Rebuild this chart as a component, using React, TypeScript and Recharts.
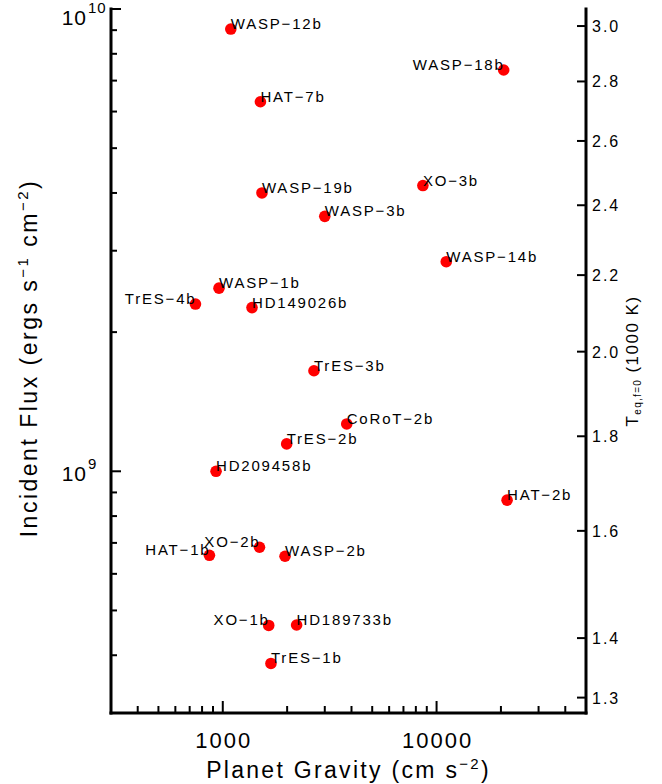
import React from 'react';
import { ScatterChart, Scatter, XAxis, YAxis, Label } from 'recharts';

// planets
const NAMES = [
  'WASP-12b', 'HAT-7b', 'WASP-19b', 'WASP-3b', 'WASP-1b', 'TrES-4b', 'HD149026b',
  'TrES-3b', 'WASP-18b', 'XO-3b', 'WASP-14b', 'TrES-2b', 'HD209458b', 'XO-2b',
  'HAT-1b', 'WASP-2b', 'XO-1b', 'HD189733b', 'TrES-1b', 'CoRoT-2b', 'HAT-2b',
];
const GRAVITY = [
  1090, 1500, 1525, 3000, 960, 745, 1370,
  2670, 20600, 8630, 11100, 1990, 930, 1485,
  866, 1955, 1640, 2215, 1680, 3800, 21370,
];
const FLUX = [
  9.05e9, 6.3e9, 4.0e9, 3.56e9, 2.49e9, 2.3e9, 2.26e9,
  1.65e9, 7.38e9, 4.15e9, 2.84e9, 1.146e9, 1.0e9, 6.85e8,
  6.58e8, 6.55e8, 4.64e8, 4.65e8, 3.84e8, 1.266e9, 8.66e8,
];
// which side of the dot the name sits on
const SIDE = [
  'r', 'r', 'r', 'r', 'r', 'l', 'r',
  'r', 'l', 'r', 'r', 'r', 'r', 'l',
  'l', 'r', 'l', 'r', 'r', 'r', 'r',
];

const G_TICKS = [400, 500, 600, 700, 800, 900, 1000, 2000, 3000, 4000, 5000, 6000, 7000, 8000, 9000, 10000, 20000, 30000, 40000];
const G_MAJOR = [1000, 10000];
const F_TICKS = [4e8, 5e8, 6e8, 7e8, 8e8, 9e8, 1e9, 2e9, 3e9, 4e9, 5e9, 6e9, 7e9, 8e9, 9e9, 1e10];
const F_MAJOR = [1e9, 1e10];
const TEQ_TICKS = [1.3, 1.4, 1.6, 1.8, 2.0, 2.2, 2.4, 2.6, 2.8, 3.0];

// F = 2 sigma T^4, T in 1000 K
const K = 2 * 5.6704e-5 * 1e12;
const toFlux = (t: number) => K * t ** 4;
const toTeq = (f: number) => Math.pow(f / K, 0.25);

const points = NAMES.map((name, i) => ({ name, g: GRAVITY[i], f: FLUX[i], side: SIDE[i] }));

const FONT = '"Liberation Sans", Arial, Helvetica, sans-serif';

const PlanetDot = (props: any) => {
  const { cx, cy, payload } = props;
  const left = payload.side === 'l';
  return (
    <g>
      <circle cx={cx} cy={cy} r={5.8} fill="#ff0000" />
      <text
        x={left ? cx + 1 : cx}
        y={cy}
        textAnchor={left ? 'end' : 'start'}
        fontSize={15}
        letterSpacing={1.8}
        fontFamily={FONT}
        fill="#000"
      >
        {payload.name.replace('-', '\u2212')}
      </text>
    </g>
  );
};

const Hidden = () => <g />;

const BottomTick = (props: any) => {
  const { x, y, payload } = props;
  const major = G_MAJOR.includes(payload.value);
  return (
    <g>
      <line x1={x} x2={x} y1={y} y2={y - (major ? 12 : 7)} stroke="#000" strokeWidth={2} />
      {major && (
        <text x={x + 1} y={y + 35} textAnchor="middle" fontSize={22} letterSpacing={2} fontFamily={FONT} fill="#000">
          {String(payload.value)}
        </text>
      )}
    </g>
  );
};

const TopTick = (props: any) => {
  const { x, y, payload } = props;
  const major = G_MAJOR.includes(payload.value);
  return <line x1={x} x2={x} y1={y} y2={y + (major ? 13 : 6)} stroke="#000" strokeWidth={2} />;
};

const FluxTick = (props: any) => {
  const { x, y, payload } = props;
  const major = F_MAJOR.includes(payload.value);
  const exp = Math.round(Math.log10(payload.value));
  const ey = Math.max(y, 15);
  return (
    <g>
      <line x1={x} x2={x + (major ? 10 : 6)} y1={y} y2={y} stroke="#000" strokeWidth={2} />
      {major && (
        <g fontFamily={FONT} fill="#000">
          <text x={x - 24} y={ey + 10} textAnchor="end" fontSize={21} letterSpacing={1}>10</text>
          <text x={x - 23} y={ey - 2} textAnchor="start" fontSize={15} letterSpacing={1}>{exp}</text>
        </g>
      )}
    </g>
  );
};

const TeqTick = (props: any) => {
  const { x, y, payload } = props;
  return (
    <g>
      <line x1={x} x2={x - 9} y1={y} y2={y} stroke="#000" strokeWidth={2} />
      <text x={x + 6} y={y + 6} fontSize={16} letterSpacing={2} fontFamily={FONT} fill="#000">
        {toTeq(payload.value).toFixed(1)}
      </text>
    </g>
  );
};

const BottomTitle = (props: any) => {
  const { x, y, width } = props.viewBox;
  return (
    <text x={x + width / 2} y={y + 65} textAnchor="middle" fontSize={23} letterSpacing={2.3} fontFamily={FONT} fill="#000">
      Planet Gravity (cm s
      <tspan dy={-9} fontSize={15}>{'\u22122'}</tspan>
      <tspan dy={9}>)</tspan>
    </text>
  );
};

const LeftTitle = (props: any) => {
  const { x, y, height } = props.viewBox;
  const tx = x - 14;
  const ty = y + height / 2 - 3;
  return (
    <text
      x={tx}
      y={ty}
      transform={`rotate(-90 ${tx} ${ty})`}
      textAnchor="middle"
      fontSize={23}
      letterSpacing={2.5}
      fontFamily={FONT}
      fill="#000"
    >
      Incident Flux (ergs s
      <tspan dy={-9} fontSize={15}>{'\u22121'}</tspan>
      <tspan dy={9}> cm</tspan>
      <tspan dy={-9} fontSize={15}>{'\u22122'}</tspan>
      <tspan dy={9}>)</tspan>
    </text>
  );
};

const RightTitle = (props: any) => {
  const { x, y, height } = props.viewBox;
  const tx = x + 52;
  const ty = y + height / 2;
  return (
    <text
      x={tx}
      y={ty}
      transform={`rotate(-90 ${tx} ${ty})`}
      textAnchor="middle"
      fontSize={17}
      letterSpacing={1.5}
      fontFamily={FONT}
      fill="#000"
    >
      T
      <tspan dy={3} fontSize={10} letterSpacing={1.3}>eq,f=0</tspan>
      <tspan dy={-3}> (1000 K)</tspan>
    </text>
  );
};

const frame = { stroke: '#000', strokeWidth: 3, strokeLinecap: 'square' as const };

export default function App() {
  return (
    <div style={{ position: 'absolute', left: 0, top: 0, width: 662, height: 784, background: '#fff' }}>
      <ScatterChart width={662} height={784} margin={{ top: 9, right: 36, bottom: 31, left: 51 }}>
        <XAxis
          xAxisId="bottom"
          dataKey="g"
          type="number"
          scale="log"
          domain={[300, 50000]}
          allowDataOverflow
          ticks={G_TICKS}
          interval={0}
          tick={<BottomTick />}
          tickLine={false}
          tickSize={0}
          tickMargin={0}
          axisLine={frame}
          height={40}
        >
          <Label content={BottomTitle} />
        </XAxis>
        <XAxis
          xAxisId="top"
          orientation="top"
          dataKey="g"
          type="number"
          scale="log"
          domain={[300, 50000]}
          allowDataOverflow
          ticks={G_TICKS}
          interval={0}
          tick={<TopTick />}
          tickLine={false}
          tickSize={0}
          tickMargin={0}
          axisLine={frame}
          height={0}
        />
        <YAxis
          yAxisId="left"
          dataKey="f"
          type="number"
          scale="log"
          domain={[3e8, 1e10]}
          allowDataOverflow
          ticks={F_TICKS}
          interval={0}
          tick={<FluxTick />}
          tickLine={false}
          tickSize={0}
          tickMargin={0}
          axisLine={frame}
          width={60}
        >
          <Label content={LeftTitle} />
        </YAxis>
        <YAxis
          yAxisId="right"
          orientation="right"
          dataKey="f"
          type="number"
          scale="log"
          domain={[3e8, 1e10]}
          allowDataOverflow
          ticks={TEQ_TICKS.map(toFlux)}
          interval={0}
          tick={<TeqTick />}
          tickLine={false}
          tickSize={0}
          tickMargin={0}
          axisLine={frame}
          width={40}
        >
          <Label content={RightTitle} />
        </YAxis>
        <Scatter
          xAxisId="top"
          yAxisId="right"
          data={points}
          shape={<Hidden />}
          isAnimationActive={false}
        />
        <Scatter
          xAxisId="bottom"
          yAxisId="left"
          data={points}
          shape={<PlanetDot />}
          isAnimationActive={false}
        />
      </ScatterChart>
    </div>
  );
}
